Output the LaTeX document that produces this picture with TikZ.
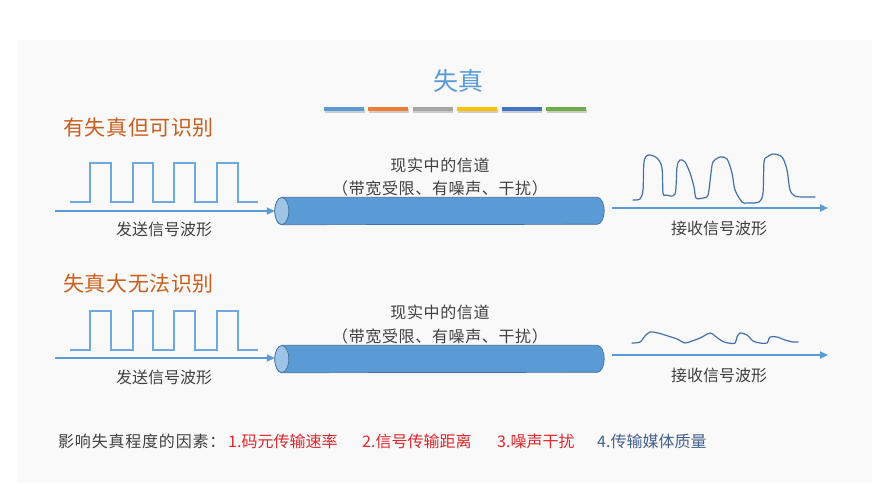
\documentclass[tikz,border=0pt]{standalone}
\usepackage{fontspec}
\newfontfamily\cjk{Noto Sans CJK SC}
\usetikzlibrary{arrows.meta}
\definecolor{bgcol}{HTML}{F9F9F9}
\definecolor{txtcol}{HTML}{404040}
\definecolor{titlecol}{HTML}{5B9BD5}
\definecolor{headcol}{RGB}{200,95,30}
\definecolor{flowcol}{HTML}{5B9BD5}
\definecolor{sqcol}{HTML}{6FA8DC}
\definecolor{rxcol}{RGB}{70,112,170}
\definecolor{pipebody}{HTML}{5B9BD5}
\definecolor{pipeedge}{HTML}{41719C}
\definecolor{pipeend}{HTML}{9DC3E6}
\definecolor{redcol}{RGB}{222,38,44}
\definecolor{bluecol}{RGB}{68,96,140}
\definecolor{barA}{HTML}{5B9BD5}
\definecolor{barB}{HTML}{ED7D31}
\definecolor{barC}{HTML}{A5A5A5}
\definecolor{barD}{HTML}{FFC000}
\definecolor{barE}{HTML}{4472C4}
\definecolor{barF}{HTML}{70AD47}
\newcommand{\chanpipe}[2]{%
  \node[minimum width=329pt, minimum height=27pt, inner sep=0pt] (#1) at (439.5,#2) {};
  \filldraw[fill=pipebody, draw=pipeedge, line width=0.7pt]
    ([xshift=7pt]#1.north west) -- ([xshift=-7pt]#1.north east)
    arc[start angle=90, end angle=-90, x radius=7pt, y radius=13.5pt]
    -- ([xshift=7pt]#1.south west)
    arc[start angle=270, end angle=90, x radius=7pt, y radius=13.5pt] -- cycle;
  \filldraw[fill=pipeend, draw=pipeedge, line width=0.7pt]
    ([xshift=7pt]#1.west) ellipse[x radius=7pt, y radius=13.5pt];
}
\newcommand{\sqwave}[1]{%
  \draw[sqline] (70,{202+#1}) -- (90,{202+#1}) -- (90,{163+#1}) -- (111,{163+#1}) -- (111,{202+#1})
    -- (133,{202+#1}) -- (133,{163+#1}) -- (153,{163+#1}) -- (153,{202+#1})
    -- (174,{202+#1}) -- (174,{163+#1}) -- (195,{163+#1}) -- (195,{202+#1})
    -- (217,{202+#1}) -- (217,{163+#1}) -- (238,{163+#1}) -- (238,{202+#1}) -- (258,{202+#1});
}
\tikzset{
  flow/.style={draw=flowcol, line width=1.8pt, -{Triangle[length=8pt,width=7pt]}},
  sqline/.style={draw=sqcol, line width=1.2pt},
  rxline/.style={draw=rxcol, line width=1.2pt, line cap=round, line join=round},
  label/.style={text=txtcol, font=\cjk\fontsize{16}{18}\selectfont, inner sep=0pt},
  wlabel/.style={text=txtcol, font=\cjk\fontsize{16}{18}\selectfont\addfontfeature{LetterSpace=4}, inner sep=0pt},
  head/.style={text=headcol, font=\cjk\fontsize{21}{24}\selectfont\addfontfeature{LetterSpace=3}, anchor=west, inner sep=0pt},
  factor/.style={font=\cjk\fontsize{16}{18}\selectfont, anchor=west, inner sep=0pt},
}
\begin{document}
\begin{tikzpicture}[x=1pt, y=-1pt]
\useasboundingbox (0,0) rectangle (872,483);
\fill[white] (0,0) rectangle (872,483);
\fill[bgcol] (18,40) rectangle (872,483);
% title
\node[text=titlecol, font=\cjk\fontsize{25}{28}\selectfont, inner sep=0pt] (title) at (458,81) {失真};
\foreach \c [count=\i from 0] in {barA,barB,barC,barD,barE,barF}{
  \fill[black, opacity=0.18] ({324.5+\i*44.4},108.5) rectangle ({364.5+\i*44.4},112.5);
  \fill[\c] ({324+\i*44.4},107) rectangle ({364+\i*44.4},111);
}
% ---- section 1
\node[head] (h1) at (63,128) {有失真但可识别};
\sqwave{0}
\chanpipe{cyl1}{211}
\coordinate (s1) at (55,211);
\draw[flow] (s1) -- (s1 -| cyl1.west);
\node[label] (tx1) at (164,229) {发送信号波形};
\node[wlabel] (ch1a) at (440,165) {现实中的信道};
\node[wlabel] (ch1b) at (440,188) {（带宽受限、有噪声、干扰）};
\coordinate (r1a) at (612,208);
\coordinate (r1b) at (828,208);
\draw[flow] (r1a) -- (r1b);
\node[label] (rx1) at (719,228) {接收信号波形};
\draw[rxline] plot[smooth, tension=0.5] coordinates {
 (633,200) (640,199) (643,190) (644,162) (648,155) (657,158) (662,168) (663,193)
 (666,195) (675,194) (677,167) (680,160) (685,162) (690,173) (694,187) (696,198)
 (703,198) (708,195) (711,173) (713,162) (720,157) (727,159) (732,173) (735,190)
 (742,202) (747,203) (759,202) (763,193) (764,162) (767,157) (773,154) (782,157)
 (787,170) (790,190) (795,196) (802,197) (815,197)};
% ---- section 2
\node[head] (h2) at (63,284) {失真大无法识别};
\sqwave{148}
\chanpipe{cyl2}{359}
\coordinate (s2) at (55,358);
\draw[flow] (s2) -- (s2 -| cyl2.west);
\node[label] (tx2) at (164,377) {发送信号波形};
\node[wlabel] (ch2a) at (440,312) {现实中的信道};
\node[wlabel] (ch2b) at (440,336) {（带宽受限、有噪声、干扰）};
\coordinate (r2a) at (612,355);
\coordinate (r2b) at (828,355);
\draw[flow] (r2a) -- (r2b);
\node[label] (rx2) at (719,375) {接收信号波形};
\draw[rxline] plot[smooth, tension=0.5] coordinates {
 (632,343) (640,342) (645,336) (650,332) (658,333) (668,336) (677,339) (685,343)
 (692,341) (700,338) (710,333) (715,336) (722,341) (728,343) (735,343) (737,337)
 (740,333) (747,335) (753,341) (760,343) (767,343) (770,337) (777,337) (785,340)
 (793,342) (798,342)};
% ---- factors
\node[factor, text=txtcol, font=\cjk\fontsize{16}{18}\selectfont\addfontfeature{LetterSpace=5}] (f0) at (58,441) {影响失真程度的因素：};
\node[factor, text=redcol] (f1) at (228,441) {1.码元传输速率};
\node[factor, text=redcol] (f2) at (362,441) {2.信号传输距离};
\node[factor, text=redcol] (f3) at (497,441) {3.噪声干扰};
\node[factor, text=bluecol] (f4) at (597,441) {4.传输媒体质量};
\end{tikzpicture}
\end{document}
